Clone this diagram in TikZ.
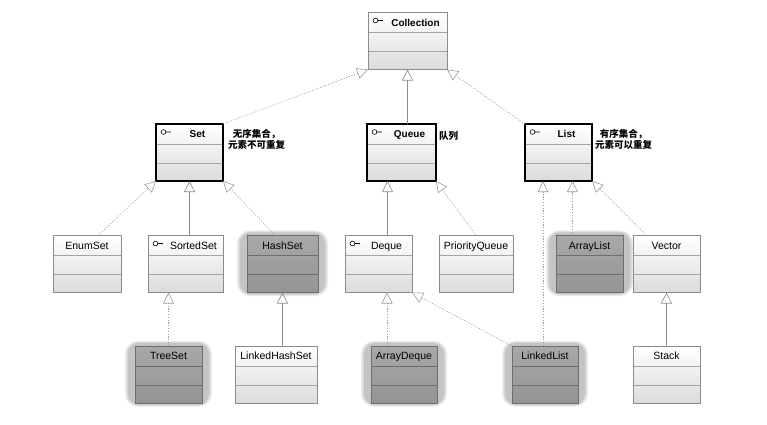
\documentclass[tikz,border=0pt]{standalone}
\usepackage{fontspec}
\setmainfont{Liberation Sans}
\newfontfamily\cjk{Noto Sans CJK SC}
\usetikzlibrary{positioning,arrows.meta,backgrounds}

\definecolor{boxline}{HTML}{8C8C8C}
\definecolor{sepline}{HTML}{A4A4A4}
\definecolor{hlline}{HTML}{6E6E6E}
\definecolor{halo}{HTML}{C4C4C4}
\definecolor{wire}{HTML}{9C9C9C}

% compartment lines of a class box
\newcommand{\seplines}[1]{%
  \draw[#1, line width=0.6pt]
    ([yshift=-20pt]path picture bounding box.north west) -- ([yshift=-20pt]path picture bounding box.north east)
    ([yshift=-39pt]path picture bounding box.north west) -- ([yshift=-39pt]path picture bounding box.north east);}
% interface lollipop
\newcommand{\ifacemark}{%
  \draw[black, line width=0.6pt]
    ([xshift=7.5pt,yshift=-8pt]path picture bounding box.north west) circle (2.4pt) ++(2.4pt,0pt) -- ++(5pt,0pt);}

\tikzset{
  clsbase/.style={line width=0.6pt, minimum width=#1, inner sep=0pt, outer sep=0pt,
    text height=13.5pt, text depth=43.5pt, font=\fontsize{10.5}{12}\selectfont},
  cls/.style={clsbase=#1, draw=boxline, top color=white, bottom color=black!14,
    path picture={\seplines{sepline}}},
  cls/.default=67pt,
  hlcls/.style={clsbase=#1, draw=hlline, top color=black!34, bottom color=black!42,
    path picture={\seplines{hlline}}},
  hlcls/.default=67pt,
  iface/.style={path picture={\seplines{sepline}\ifacemark},
    execute at begin node={\hspace*{16pt}}},
  heavy/.style={draw=black, line width=2.6pt, font=\bfseries\fontsize{10}{12}\selectfont},
  note/.style={inner sep=0pt, align=center, font=\cjk\bfseries\fontsize{9.5}{11.5}\selectfont},
  tri/.style={-{Triangle[open, length=11pt, width=11pt, line width=0.6pt]}},
  ext/.style={tri, draw=wire!90!black, line width=0.6pt},
  real/.style={tri, draw=wire, line width=0.6pt, dash pattern=on 1.2pt off 1.6pt},
}

\begin{document}
\begin{tikzpicture}[x=1pt, y=-1pt]
\useasboundingbox (0,0) rectangle (767,424);

% --- top
\node[cls=79pt, iface, font=\bfseries\fontsize{10}{12}\selectfont] (collection) at (407.5,41) {Collection};

% --- interfaces
\node[cls, iface, heavy] (set) at (189.5,152.5) {Set};
\node[cls=69pt, iface, heavy, right=144pt of set] (queue) {Queue};
\node[cls, iface, heavy, right=89pt of queue] (list) {List};

\node[note, below right=5pt and 5pt of set.north east] (setnote) {无序集合，\\元素不可重复};
\node[note, below right=7pt and 3pt of queue.north east] (queuenote) {队列};
\node[note, below right=5pt and 3pt of list.north east] (listnote) {有序集合，\\元素可以重复};

% --- second row
\node[cls=68pt] (enumset) at (87,264) {EnumSet};
\node[cls=75pt, iface, right=27pt of enumset] (sortedset) {SortedSet};
\node[hlcls=71pt, right=24pt of sortedset] (hashset) {HashSet};
\node[cls, iface, right=27pt of hashset] (deque) {Deque};
\node[cls=74pt, right=27pt of deque] (pqueue) {PriorityQueue};
\node[hlcls, right=43pt of pqueue] (arraylist) {ArrayList};
\node[cls, right=10pt of arraylist] (vector) {Vector};

% --- third row
\node[hlcls] (treeset) at (168.5,374.5) {TreeSet};
\node[cls=82pt, right=33pt of treeset] (linkedhashset) {LinkedHashSet};
\node[hlcls=66pt, right=54pt of linkedhashset] (arraydeque) {ArrayDeque};
\node[hlcls=66pt, right=75pt of arraydeque] (linkedlist) {LinkedList};
\node[cls, right=55pt of linkedlist] (stack) {Stack};

% --- halos behind the implementing classes
\begin{scope}[on background layer]
\fill[white] (0,0) rectangle (767,424);
\foreach \n in {hashset,arraylist,treeset,arraydeque,linkedlist}{
  \fill[halo!35, rounded corners=13pt] ([xshift=-10pt,yshift=-3.5pt]\n.south west) rectangle ([xshift=10pt,yshift=5pt]\n.north east);
  \fill[halo!70, rounded corners=12pt] ([xshift=-8.5pt,yshift=-2.5pt]\n.south west) rectangle ([xshift=8.5pt,yshift=4pt]\n.north east);
  \fill[halo, rounded corners=11pt] ([xshift=-7pt,yshift=-1.5pt]\n.south west) rectangle ([xshift=7pt,yshift=3pt]\n.north east);
}
\end{scope}

% --- generalisation / realisation
\draw[real] (set.north east) -- (collection.south west);
\draw[ext] (queue.north -| collection.south) -- (collection.south);
\draw[real] (list.north west) -- (collection.south east);

\draw[real] ([xshift=11pt]enumset.north) -- (set.south west);
\draw[ext] (sortedset.north -| set.south) -- (set.south);
\draw[real] ([xshift=-7pt]hashset.north) -- (set.south east);
\draw[ext] ([xshift=9pt]deque.north) -- ([xshift=9pt]deque.north |- queue.south);
\draw[real] (pqueue.north) -- (queue.south east);
\draw[real] ([xshift=-17pt]arraylist.north) -- ([xshift=-17pt]arraylist.north |- list.south);
\draw[real] ([xshift=-20pt]vector.north) -- (list.south east);

\draw[real] (treeset.north) -- (treeset.north |- sortedset.south);
\draw[ext] (hashset.south |- linkedhashset.north) -- (hashset.south);
\draw[real] ([xshift=-17pt]arraydeque.north) -- ([xshift=-17pt]arraydeque.north |- deque.south);
\draw[real] (linkedlist.north west) -- (deque.south east);
\draw[real] ([xshift=-2pt]linkedlist.north) -- ([xshift=-2pt]linkedlist.north |- list.south);
\draw[ext] (stack.north -| vector.south) -- (vector.south);

\end{tikzpicture}
\end{document}
